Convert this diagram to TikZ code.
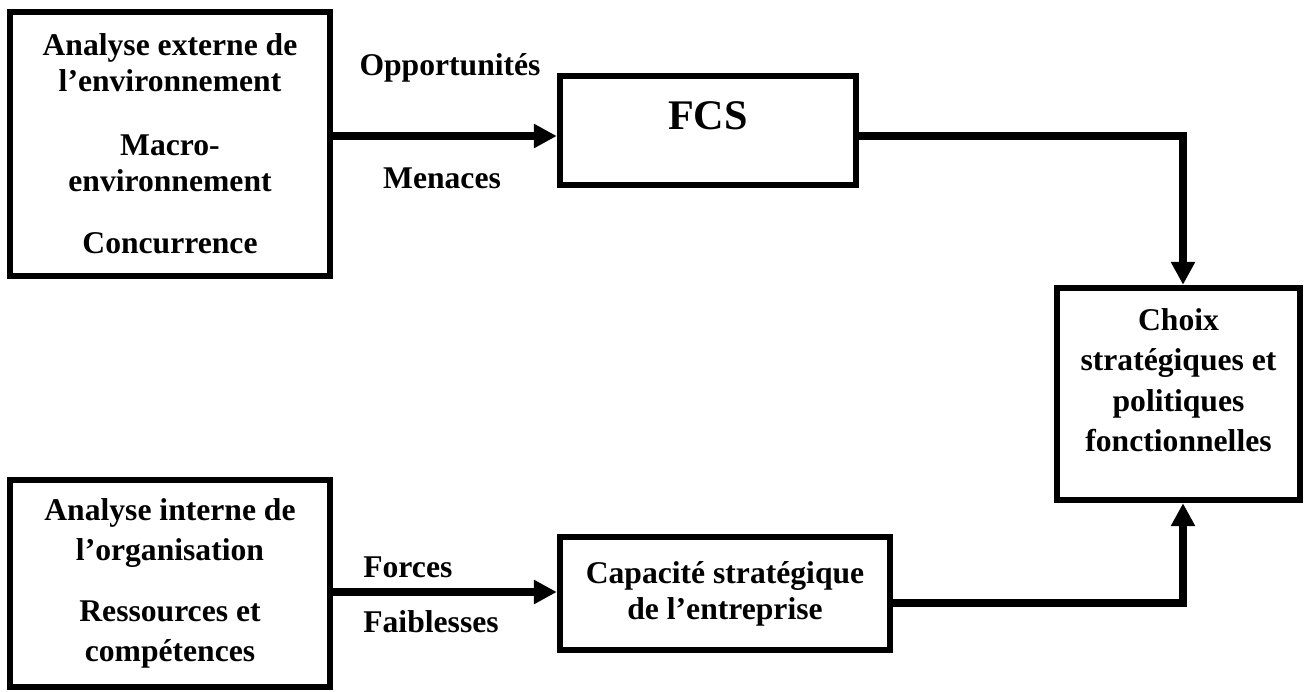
\documentclass[tikz,border=0pt]{standalone}
\usepackage{fontspec}
\setmainfont{Liberation Serif}
\usetikzlibrary{arrows.meta}

\begin{document}
\begin{tikzpicture}[x=0.02cm, y=-0.02cm,
    box/.style={draw, line width=3.7pt, inner sep=0pt, align=center,
      font=\fontsize{18}{20.5}\selectfont\bfseries},
    wide/.style={font=\fontsize{18}{22.8}\selectfont\bfseries},
    lbl/.style={inner sep=0pt, font=\fontsize{18}{20.5}\selectfont\bfseries},
    link/.style={line width=4.2pt},
    arr/.style={link, -{Triangle[length=0.46cm,width=0.46cm]}}]
  \useasboundingbox (0,0) rectangle (1304,691);

  % Boxes
  \node[box, minimum width=6.4cm, minimum height=5.28cm] (ext) at (170,144)
    {Analyse externe de\\l’environnement\\[0.56cm]Macro-\\environnement\\[0.52cm]Concurrence};
  \node[box, minimum width=5.92cm, minimum height=2.18cm, text depth=0.6cm,
    font=\fontsize{24}{28}\selectfont\bfseries] (fcs) at (708,130.5) {FCS};
  \node[box, wide, minimum width=4.86cm, minimum height=4.24cm, text depth=0.56cm] (choix) at (1178.5,394)
    {Choix\\stratégiques et\\politiques\\fonctionnelles};
  \node[box, wide, minimum width=6.4cm, minimum height=4.14cm] (int) at (170,583.5)
    {Analyse interne de\\l’organisation\\[0.42cm]Ressources et\\compétences};
  \node[box, minimum width=6.6cm, minimum height=2.26cm] (cap) at (725,593.5)
    {Capacité stratégique\\de l’entreprise};

  % Labels
  \node[lbl] (opp) at (450,68) {Opportunités};
  \node[lbl] (men) at (442,178) {Menaces};
  \node[lbl, anchor=west] (for) at (363,567) {Forces};
  \node[lbl, anchor=west] (fai) at (363,622) {Faiblesses};

  % Connectors
  \draw[arr] (ext.east |- 0,136) -- (fcs.west |- 0,136);
  \draw[arr] (fcs.east |- 0,136) -| (1183,0 |- choix.north);
  \draw[arr] (int.east |- 0,592) -- (cap.west |- 0,592);
  \draw[arr] (cap.east |- 0,603) -| (1183,0 |- choix.south);
\end{tikzpicture}
\end{document}
